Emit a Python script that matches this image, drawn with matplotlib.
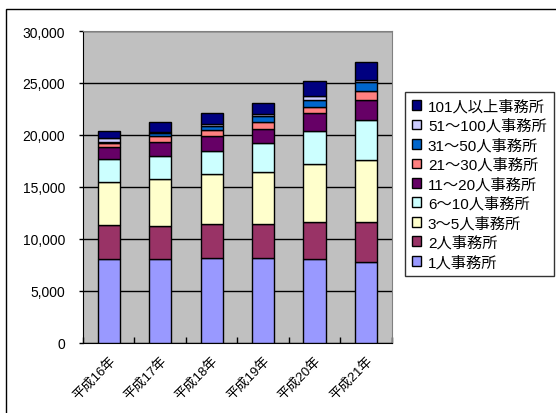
import matplotlib
matplotlib.use("Agg")
import matplotlib.pyplot as plt
import matplotlib.patches as mpatches
import numpy as np

plt.rcParams["font.family"] = ["Liberation Sans", "Noto Sans CJK JP", "DejaVu Sans"]

years = ["平成16年", "平成17年", "平成18年", "平成19年", "平成20年", "平成21年"]

# 事務所規模別の件数 (下から積み上げ)
office_1 = [8040, 8040, 8135, 8135, 8040, 7750]
office_2 = [3284, 3187, 3285, 3285, 3574, 3864]
office_3_5 = [4154, 4542, 4764, 5025, 5604, 5990]
office_6_10 = [2155, 2221, 2290, 2802, 3188, 3865]
office_11_20 = [1227, 1353, 1449, 1353, 1739, 1932]
office_21_30 = [385, 560, 590, 676, 580, 815]
office_31_50 = [80, 270, 370, 580, 676, 869]
office_51_100 = [345, 130, 150, 194, 387, 193]
office_101 = [705, 935, 1078, 1062, 1352, 1711]

series = [
    ("1人事務所", office_1, "#9999FF"),
    ("2人事務所", office_2, "#993366"),
    ("3～5人事務所", office_3_5, "#FFFFCC"),
    ("6～10人事務所", office_6_10, "#CCFFFF"),
    ("11～20人事務所", office_11_20, "#660066"),
    ("21～30人事務所", office_21_30, "#FF8080"),
    ("31～50人事務所", office_31_50, "#0066CC"),
    ("51～100人事務所", office_51_100, "#CCCCFF"),
    ("101人以上事務所", office_101, "#000080"),
]

fig = plt.figure(figsize=(5.56, 4.14), dpi=100)
ax = fig.add_axes([83 / 556, 1 - 343.5 / 414, 308.7 / 556, 311.5 / 414])
ax.set_facecolor("#C0C0C0")

x = np.arange(len(years))
bottom = np.zeros(len(years))
handles = []
for label, vals, color in series:
    vals = np.array(vals, dtype=float)
    bars = ax.bar(x, vals, width=0.43, bottom=bottom, color=color,
                  edgecolor="black", linewidth=1.0, label=label, zorder=3)
    bottom += vals
    handles.append(bars)

ax.set_xlim(-0.5, len(years) - 0.5)
ax.set_ylim(0, 30000)
ax.set_yticks(np.arange(0, 30001, 5000))
ax.set_yticklabels([f"{v:,}" for v in range(0, 30001, 5000)], fontsize=10)
ax.yaxis.grid(True, color="black", linewidth=1.0, zorder=1)
ax.set_axisbelow(True)
ax.tick_params(axis="y", direction="out", length=3, width=1, pad=10)

ax.set_xticks(x)
ax.set_xticklabels(years, rotation=45, ha="right", va="top",
                   rotation_mode="anchor", fontsize=9.5)
ax.tick_params(axis="x", length=0, pad=8)
ax.set_xticks(np.arange(-0.5, len(years)), minor=True)
ax.tick_params(axis="x", which="minor", direction="in", length=4, width=1)

for side in ["top", "right"]:
    ax.spines[side].set_color("#808080")
ax.spines["left"].set_color("black")
ax.spines["bottom"].set_color("black")

# outer chart border (runs off right and bottom edge)
fig.patches.append(mpatches.Rectangle((6 / 556, -0.1), 1.2, 1.1 - 10 / 414,
                                      transform=fig.transFigure, fill=False,
                                      edgecolor="black", linewidth=1.0))

leg = fig.legend(handles[::-1], [s[0] for s in series][::-1],
                 loc="upper left", bbox_to_anchor=(405 / 556, 1 - 93 / 414),
                 fontsize=11, frameon=True, fancybox=False, edgecolor="black",
                 handlelength=0.6, handleheight=0.6, handletextpad=0.45,
                 labelspacing=0.33, borderpad=0.45, borderaxespad=0)
leg.get_frame().set_linewidth(1.0)

fig.savefig("out.png", dpi=100)
